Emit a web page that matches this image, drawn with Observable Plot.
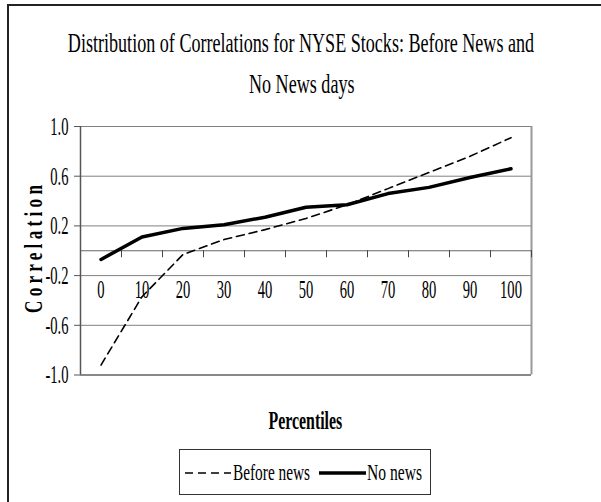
<!DOCTYPE html>
<html>
<head>
<meta charset="utf-8">
<script src="https://cdn.jsdelivr.net/npm/d3@7"></script>
<script src="https://cdn.jsdelivr.net/npm/@observablehq/plot@0.6"></script>
<style>
html, body { margin: 0; padding: 0; background: #fff; }
#wrap { position: relative; width: 601px; height: 502px; overflow: hidden; font-family: "Liberation Serif", "Times New Roman", serif; color: #000; }
#frame { position: absolute; left: 7px; top: 4px; width: 700px; height: 600px; border-left: 2px solid #222; border-top: 2px solid #222; }
.title { position: absolute; width: 1201px; text-align: center; font-size: 27px; line-height: 41px; white-space: nowrap; }
.title span { display: inline-block; transform: scaleX(0.67); transform-origin: center; }
#xlabel { position: absolute; left: -295px; width: 1201px; text-align: center; font-size: 26px; font-weight: bold; line-height: 30px; top: 406px; white-space: nowrap; }
#xlabel span { display: inline-block; transform: scaleX(0.61); transform-origin: center; }
#chart { position: absolute; left: 0; top: 100px; }
#legend { position: absolute; left: 179px; top: 449px; }
</style>
</head>
<body>
<div id="wrap">
  <div id="frame"></div>
  <div class="title" style="top:23px;left:-300px"><span>Distribution of Correlations for NYSE Stocks: Before News and</span></div>
  <div class="title" style="top:64px;left:-299px"><span>No News days</span></div>
  <div id="chart"></div>
  <div id="xlabel"><span>Percentiles</span></div>
  <div id="legend"></div>
</div>
<script>
// ---- data ----
const percentiles = [0, 10, 20, 30, 40, 50, 60, 70, 80, 90, 100];
const beforeNews = [-0.92, -0.37, -0.03, 0.09, 0.17, 0.26, 0.37, 0.50, 0.63, 0.76, 0.91];
const noNews     = [-0.07, 0.11, 0.18, 0.21, 0.27, 0.35, 0.37, 0.46, 0.51, 0.59, 0.66];
const yTicks = [-1.0, -0.6, -0.2, 0.2, 0.6, 1.0];
const seriesNames = ["Before news", "No news"];
const yLabel = "C o r r e l a t i o n";

const boundaries = percentiles.map(p => p - 5).concat([105]);

const chart = Plot.plot({
  width: 601,
  height: 300,
  marginTop: 26,
  marginBottom: 25.5,
  marginLeft: 80,
  marginRight: 70,
  x: {domain: [-5, 105], axis: null},
  y: {domain: [-1, 1]},
  style: {fontFamily: "'Liberation Serif', 'Times New Roman', serif", fontSize: "26px", color: "#000", background: "transparent", overflow: "visible"},
  marks: [
    Plot.ruleY(yTicks, {stroke: "#808080", strokeWidth: 1}),
    Plot.ruleY([-1], {stroke: "#888", strokeWidth: 2}),
    Plot.ruleX([105], {y1: -1, y2: 1, stroke: "#999", strokeWidth: 2}),
    Plot.ruleY([0], {stroke: "#666", strokeWidth: 1}),
    Plot.ruleX(boundaries, {x: d => d, y1: 0, y2: 0, insetBottom: -7, stroke: "#444"}),
    Plot.ruleX([-5], {y1: -1, y2: 1, stroke: "#555", strokeWidth: 1.5}),
    Plot.axisY({ticks: yTicks, tickSize: 6, tickPadding: 6, tickFormat: d => d.toFixed(1), label: null, stroke: "#555"}),
    Plot.text(percentiles, {x: d => d, y: 0, dy: 39, text: d => String(d)}),
    Plot.line(percentiles, {x: d => d, y: (d, i) => beforeNews[i], stroke: "#000", strokeWidth: 1.6, strokeDasharray: "8,5"}),
    Plot.line(percentiles, {x: d => d, y: (d, i) => noNews[i], stroke: "#000", strokeWidth: 3.5})
  ]
});
document.getElementById("chart").appendChild(chart);

// squeeze tick labels horizontally (narrow serif look)
chart.querySelectorAll("text").forEach(t => {
  const w = t.getComputedTextLength();
  if (w > 0) {
    t.setAttribute("textLength", (w * 0.56).toFixed(2));
    t.setAttribute("lengthAdjust", "spacingAndGlyphs");
  }
});

// y label
const svg = d3.select(chart);
const yl = svg.append("text")
  .attr("transform", "translate(42,149) rotate(-90)")
  .attr("text-anchor", "middle")
  .attr("font-weight", "bold")
  .attr("font-size", 26)
  .text(yLabel);
yl.attr("textLength", 128).attr("lengthAdjust", "spacingAndGlyphs");

// legend
const lg = d3.select("#legend").append("svg").attr("width", 300).attr("height", 47)
  .style("overflow", "visible")
  .style("font-family", "'Liberation Serif', 'Times New Roman', serif");
lg.append("rect").attr("x", 0.5).attr("y", 0.5).attr("width", 251).attr("height", 45)
  .attr("fill", "#fff").attr("stroke", "#333").attr("stroke-width", 1);
lg.append("line").attr("x1", 6).attr("x2", 52).attr("y1", 24).attr("y2", 24)
  .attr("stroke", "#000").attr("stroke-width", 1.6).attr("stroke-dasharray", "8,5");
lg.append("line").attr("x1", 140).attr("x2", 187).attr("y1", 24).attr("y2", 24)
  .attr("stroke", "#000").attr("stroke-width", 3.5);
lg.append("text").attr("x", 54).attr("y", 31).attr("font-size", 24)
  .attr("textLength", 77).attr("lengthAdjust", "spacingAndGlyphs").text(seriesNames[0]);
lg.append("text").attr("x", 188).attr("y", 31).attr("font-size", 24)
  .attr("textLength", 55).attr("lengthAdjust", "spacingAndGlyphs").text(seriesNames[1]);
</script>
</body>
</html>
